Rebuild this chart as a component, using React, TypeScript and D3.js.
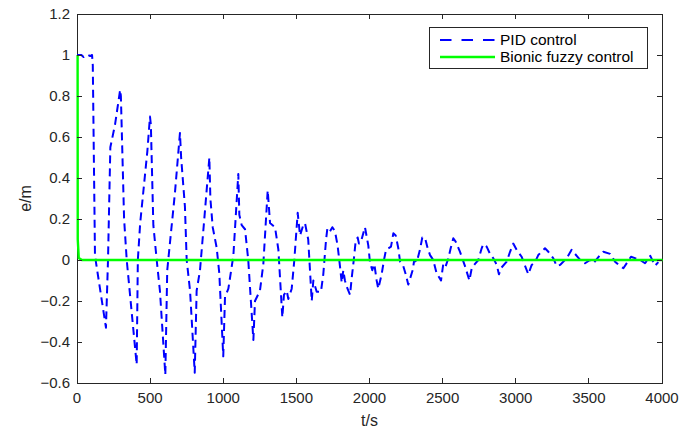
import React from "react";
import * as d3 from "d3";

const WIDTH = 684;
const HEIGHT = 434;
const margin = { top: 14, right: 22, bottom: 51, left: 77 };

// x tick values (t/s) and y tick values (e/m)
const xTicks = [0, 500, 1000, 1500, 2000, 2500, 3000, 3500, 4000];
const yTicks = [-0.6, -0.4, -0.2, 0, 0.2, 0.4, 0.6, 0.8, 1, 1.2];

// PID control response
const pidTime = [
  0, 30, 45, 60, 75, 90, 103, 108, 123, 198, 212, 228, 260, 295, 300, 322, 340,
  408, 416, 432, 481, 499, 505, 522, 545, 567, 604, 617, 670, 704, 712, 738, 750,
  773, 805, 818, 841, 868, 905, 912, 928, 955, 973, 1000, 1012, 1035, 1069, 1103,
  1110, 1126, 1149, 1171, 1206, 1217, 1251, 1274, 1304, 1320, 1354, 1377, 1404,
  1415, 1434, 1445, 1468, 1486, 1509, 1525, 1547, 1559, 1581, 1605, 1616, 1639,
  1668, 1684, 1703, 1712, 1730, 1746, 1764, 1782, 1798, 1810, 1821, 1832, 1844,
  1867, 1878, 1894, 1905, 1919, 1928, 1946, 1969, 1992, 2003, 2019, 2033, 2049,
  2060, 2083, 2099, 2113, 2147, 2163, 2179, 2197, 2209, 2231, 2248, 2265, 2295,
  2306, 2323, 2345, 2361, 2379, 2398, 2414, 2436, 2459, 2489, 2505, 2521, 2539,
  2555, 2573, 2589, 2619, 2653, 2683, 2699, 2720, 2744, 2767, 2778, 2801, 2824,
  2847, 2870, 2885, 2899, 2938, 2961, 2983, 3006, 3040, 3086, 3109, 3132, 3154,
  3200, 3223, 3257, 3280, 3303, 3348, 3382, 3405, 3451, 3474, 3508, 3531, 3576,
  3599, 3645, 3679, 3713, 3736, 3788, 3850, 3884, 3920, 3952, 3975,
];
const pidError = [
  1.0, 1.0, 0.99, 1.0, 1.0, 0.995, 1.0, 0.95, 0.02, -0.33, 0.0, 0.55, 0.66, 0.83,
  0.8, 0.2, 0.0, -0.51, 0.0, 0.18, 0.53, 0.7, 0.66, 0.17, 0.0, -0.15, -0.56,
  -0.05, 0.33, 0.62, 0.5, 0.26, 0.0, -0.15, -0.55, -0.15, -0.05, 0.18, 0.5, 0.3,
  0.16, 0.06, -0.065, -0.47, -0.18, -0.14, 0.02, 0.42, 0.22, 0.17, 0.15, 0.0,
  -0.39, -0.2, -0.15, -0.02, 0.34, 0.18, 0.16, 0.05, -0.28, -0.17, -0.15, -0.19,
  -0.14, 0.0, 0.23, 0.12, 0.17, 0.18, 0.1, -0.2, -0.1, -0.155, -0.155, -0.07, 0.1,
  0.155, 0.14, 0.16, 0.14, 0.07, -0.03, -0.11, -0.05, -0.1, -0.13, -0.17, -0.09,
  0.01, 0.09, 0.11, 0.08, 0.1, 0.16, 0.07, -0.01, -0.05, -0.02, -0.1, -0.14,
  -0.07, 0.0, 0.05, 0.065, 0.13, 0.12, 0.057, -0.008, -0.03, -0.07, -0.12, -0.05,
  0.0, -0.01, 0.05, 0.11, 0.11, 0.057, 0.024, 0.0, -0.065, -0.1, -0.016, -0.03,
  0.008, 0.057, 0.106, 0.09, 0.04, -0.03, -0.1, -0.04, -0.02, 0.0, 0.057, 0.077,
  0.065, 0.03, 0.008, -0.024, -0.07, -0.04, -0.008, 0.04, 0.08, 0.05, 0.016,
  -0.07, -0.024, -0.01, 0.024, 0.057, 0.04, 0.008, -0.03, -0.024, 0.008, 0.05,
  0.03, -0.008, -0.016, 0.0, -0.016, 0.024, 0.04, 0.03, -0.008, -0.03, -0.04,
  0.016, 0.0, -0.016, 0.02, -0.028, -0.01,
];

// Bionic fuzzy control response
const fuzzyTime = [0, 1, 8, 30, 4000];
const fuzzyError = [1.0, 0.1, 0.01, 0.0, 0.0];

const seriesNames = ["PID control", "Bionic fuzzy control"];

const FONT = "'Liberation Sans', Arial, sans-serif";
const AXIS_COLOR = "#262626";

export default function App() {
  const x = d3
    .scaleLinear()
    .domain([0, 4000])
    .range([margin.left, WIDTH - margin.right]);
  const y = d3
    .scaleLinear()
    .domain([-0.6, 1.2])
    .range([HEIGHT - margin.bottom, margin.top]);

  const line = d3
    .line<[number, number]>()
    .x((d) => x(d[0]))
    .y((d) => y(d[1]));

  const pidPath = line(pidTime.map((t, i) => [t, pidError[i]]));
  const fuzzyPath = line(fuzzyTime.map((t, i) => [t, fuzzyError[i]]));

  const x0 = x(0);
  const x1 = x(4000);
  const y0 = y(1.2);
  const y1 = y(-0.6);
  const tick = 5;

  const legend = { x: 429, y: 27, w: 218, h: 41 };

  return (
    <svg
      width={WIDTH}
      height={HEIGHT}
      style={{ position: "absolute", left: 0, top: 0, background: "#fff" }}
      fontFamily={FONT}
    >
      <rect x={0} y={0} width={WIDTH} height={HEIGHT} fill="#fff" />

      {/* box */}
      <rect
        x={x0}
        y={y0}
        width={x1 - x0}
        height={y1 - y0}
        fill="none"
        stroke={AXIS_COLOR}
        strokeWidth={1}
        shapeRendering="crispEdges"
      />

      {/* data lines */}
      <defs>
        <clipPath id="plot">
          <rect x={x0 - 2} y={y0 - 2} width={x1 - x0 + 4} height={y1 - y0 + 4} />
        </clipPath>
      </defs>
      <g clipPath="url(#plot)">
        <path
          d={pidPath || ""}
          fill="none"
          stroke="#0000ff"
          strokeWidth={2}
          strokeDasharray="8 5"
          strokeLinejoin="round"
        />
        <path
          d={fuzzyPath || ""}
          fill="none"
          stroke="#00ff00"
          strokeWidth={2.4}
          transform="translate(0.6,0)"
        />
      </g>

      {/* x ticks */}
      {xTicks.map((t) => (
        <g key={"x" + t}>
          <line x1={x(t)} x2={x(t)} y1={y1} y2={y1 - tick} stroke={AXIS_COLOR} shapeRendering="crispEdges" />
          <line x1={x(t)} x2={x(t)} y1={y0} y2={y0 + tick} stroke={AXIS_COLOR} shapeRendering="crispEdges" />
          <text x={x(t)} y={y1 + 20} textAnchor="middle" fontSize={15} fill={AXIS_COLOR}>
            {t}
          </text>
        </g>
      ))}

      {/* y ticks */}
      {yTicks.map((v) => (
        <g key={"y" + v}>
          <line x1={x0} x2={x0 + tick} y1={y(v)} y2={y(v)} stroke={AXIS_COLOR} shapeRendering="crispEdges" />
          <line x1={x1} x2={x1 - tick} y1={y(v)} y2={y(v)} stroke={AXIS_COLOR} shapeRendering="crispEdges" />
          <text x={x0 - 7} y={y(v)} dy="0.35em" textAnchor="end" fontSize={15} fill={AXIS_COLOR}>
            {d3.format("~g")(+v.toFixed(1))}
          </text>
        </g>
      ))}

      {/* axis labels */}
      <text x={(x0 + x1) / 2} y={426} textAnchor="middle" fontSize={16} fill={AXIS_COLOR}>
        t/s
      </text>
      <text
        transform={`translate(31, ${(y0 + y1) / 2}) rotate(-90)`}
        textAnchor="middle"
        fontSize={16}
        fill={AXIS_COLOR}
      >
        e/m
      </text>

      {/* legend */}
      <rect
        x={legend.x}
        y={legend.y}
        width={legend.w}
        height={legend.h}
        fill="#fff"
        stroke={AXIS_COLOR}
        strokeWidth={1}
        shapeRendering="crispEdges"
      />
      <line x1={440} x2={495} y1={40} y2={40} stroke="#0000ff" strokeWidth={2} strokeDasharray="11.5 10" />
      <line x1={440} x2={495} y1={57} y2={57} stroke="#00ff00" strokeWidth={2.4} />
      <text x={500} y={40} dy="0.35em" fontSize={15.5} fill="#000">
        {seriesNames[0]}
      </text>
      <text x={500} y={57} dy="0.35em" fontSize={15.5} fill="#000">
        {seriesNames[1]}
      </text>
    </svg>
  );
}
